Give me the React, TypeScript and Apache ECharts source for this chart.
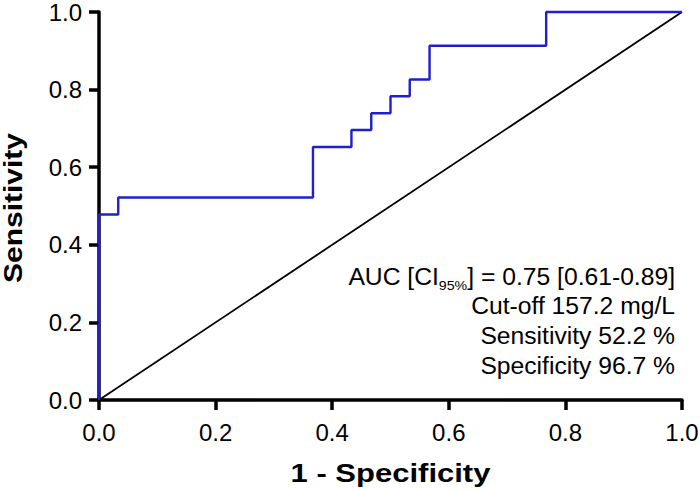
import React, { useEffect, useRef } from "react";
import * as echarts from "echarts";

const fpr = [0, 0, 0.033, 0.367, 0.433, 0.467, 0.5, 0.533, 0.567, 0.767, 1.0];
const tpr = [0, 0.478, 0.522, 0.652, 0.696, 0.739, 0.783, 0.826, 0.913, 1.0, 1.0];
const diagX = [0, 1];
const diagY = [0, 1];
const annotLines = [
  "{n|AUC [CI}{s|95%}{n|] = 0.75 [0.61-0.89]}",
  "Cut-off 157.2 mg/L",
  "Sensitivity 52.2 %",
  "Specificity 96.7 %",
];
const xName = "1 - Specificity";
const yName = "Sensitivity";

const FONT = "'Liberation Sans', Arial, sans-serif";

export default function App() {
  const ref = useRef<HTMLDivElement>(null);
  useEffect(() => {
    if (!ref.current) return;
    const chart = echarts.init(ref.current, undefined, { renderer: "svg" });
    const axisCommon = {
      type: "value" as const,
      min: 0,
      max: 1,
      interval: 0.2,
      axisLine: { show: true, onZero: false, lineStyle: { color: "#000", width: 3.5 } },
      axisTick: { show: true, length: 10, lineStyle: { color: "#000", width: 3.5 } },
      axisLabel: {
        fontFamily: FONT,
        fontSize: 24,
        color: "#000",
        formatter: (v: number) => v.toFixed(1),
      },
      splitLine: { show: false },
    };
    const ys = [277, 306, 336, 366];
    const textEls: any[] = annotLines.map((t, i) => ({
      type: "text",
      x: 675,
      y: ys[i],
      scaleX: 1.05,
      style: {
        text: t,
        align: "right",
        verticalAlign: "middle",
        fontFamily: FONT,
        fontSize: 23.5,
        fill: "#000",
        rich: {
          n: { fontFamily: FONT, fontSize: 23.5, color: "#000" },
          s: { fontFamily: FONT, fontSize: 13.5, color: "#000", verticalAlign: "bottom", padding: [0, 0, -3, 0] },
        },
      },
    }));
    textEls.push({
      type: "text",
      x: 390.5,
      y: 474,
      scaleX: 1.24,
      style: {
        text: xName,
        align: "center",
        verticalAlign: "middle",
        fontFamily: FONT,
        fontSize: 25,
        fontWeight: "bold",
        fill: "#000",
      },
    });
    textEls.push({
      type: "text",
      x: 13,
      y: 208,
      rotation: Math.PI / 2,
      scaleX: 1.2,
      style: {
        text: yName,
        align: "center",
        verticalAlign: "middle",
        fontFamily: FONT,
        fontSize: 25,
        fontWeight: "bold",
        fill: "#000",
      },
    });
    chart.setOption({
      animation: false,
      backgroundColor: "#fff",
      grid: { left: 99, right: 18, top: 12, bottom: 90, containLabel: false, outerBoundsMode: "none" },
      xAxis: {
        ...axisCommon,
        axisLabel: { ...axisCommon.axisLabel, margin: 20 },
      },
      yAxis: {
        ...axisCommon,
        axisLabel: { ...axisCommon.axisLabel, margin: 17 },
      },
      series: [
        {
          type: "line",
          data: diagX.map((x, i) => [x, diagY[i]]),
          showSymbol: false,
          lineStyle: { color: "#000", width: 1.8 },
          z: 2,
        },
        {
          type: "line",
          step: "end",
          clip: false,
          data: fpr.map((x, i) => [x, tpr[i]]),
          showSymbol: false,
          lineStyle: { color: "#1f1fd0", width: 2.4 },
          z: 3,
        },
      ],
      graphic: textEls,
    });
    return () => chart.dispose();
  }, []);
  return <div ref={ref} style={{ width: 700, height: 490, position: "absolute", left: 0, top: 0 }} />;
}
